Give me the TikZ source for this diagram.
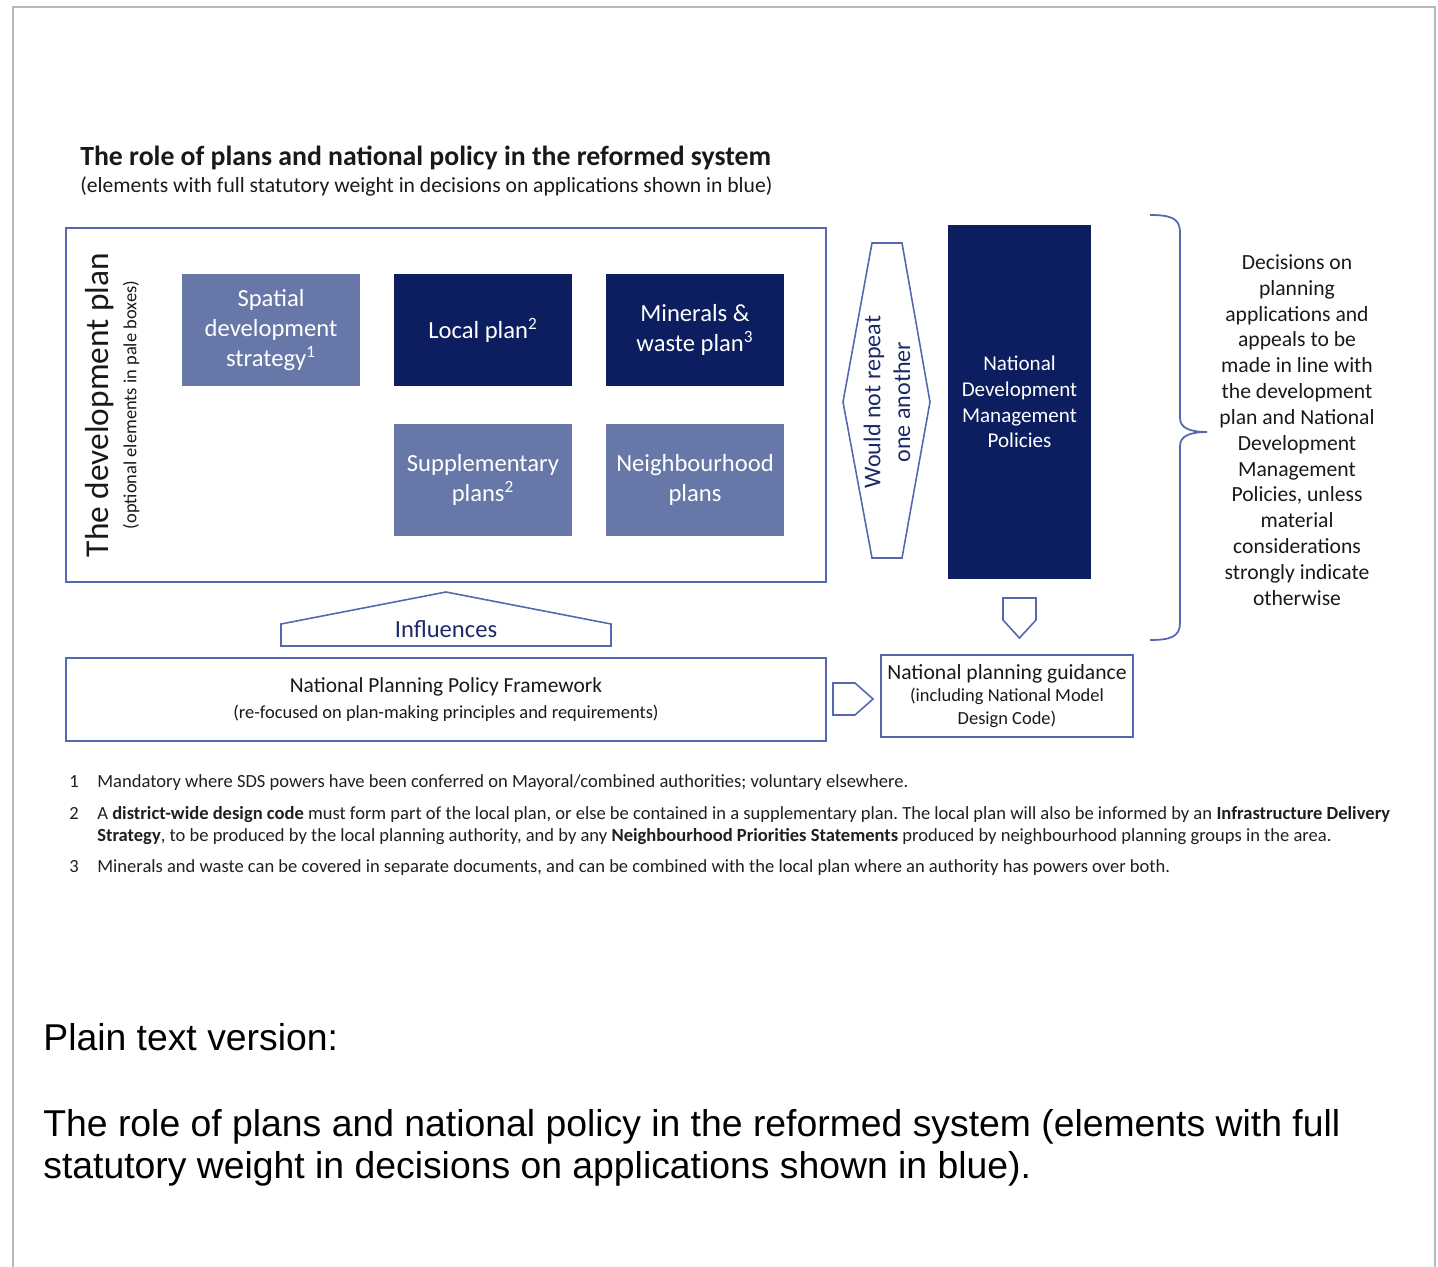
\documentclass[tikz,border=0pt]{standalone}
\usepackage{fontspec}
\setmainfont{Carlito}
\newfontfamily\arialfont{Liberation Sans}
\frenchspacing
\definecolor{navy}{RGB}{12,30,95}
\definecolor{pale}{RGB}{103,120,168}
\definecolor{edge}{RGB}{84,104,176}
\definecolor{ink}{RGB}{28,42,105}
\tikzset{
	darkbox/.style={fill=navy,text=white,minimum width=3.56cm,minimum height=2.24cm,align=center,inner sep=0pt,font=\fontsize{14}{17}\selectfont},
	palebox/.style={darkbox,fill=pale},
	frame/.style={draw=edge,line width=1.1pt},
	shapeline/.style={draw=edge,line width=0.9pt},
	note/.style={anchor=base west,inner sep=0pt,text=black!88,font=\fontsize{10.55}{12}\selectfont}
}
\begin{document}
\begin{tikzpicture}[x=0.02cm,y=-0.02cm]
	\useasboundingbox (0,0) rectangle (1438,1267);
	\draw[color=gray!55,line width=1.6pt] (13,1267)--(13,7)--(1435,7)--(1435,1267);

	\node[anchor=base west,inner sep=0pt,text=black!90,font=\bfseries\fontsize{15.8}{19}\selectfont] (title) at (80,166) {The role of plans and national policy in the reformed system};
	\node[anchor=base west,inner sep=0pt,text=black!90,font=\fontsize{12.3}{14}\selectfont] (subtitle) at (80,193) {(elements with full statutory weight in decisions on applications shown in blue)};

	% development plan
	\node[frame,minimum width=15.2cm,minimum height=7.08cm] (devplan) at (446,405) {};
	\node[rotate=90,inner sep=0pt,text=black!90,font=\fontsize{19}{22}\selectfont] (devtitle) at (100,405) {The development plan};
	\node[rotate=90,inner sep=0pt,text=black!90,font=\fontsize{10.5}{12}\selectfont] (devnote) at (131,405) {(optional elements in pale boxes)};
	\node[palebox] (sds) at (271,330) {Spatial\\development\\strategy\textsuperscript{1}};
	\node[darkbox] (local) at (483,330) {Local plan\textsuperscript{2}};
	\node[darkbox] (minerals) at (695,330) {Minerals \&\\waste plan\textsuperscript{3}};
	\node[palebox] (supp) at (483,480) {Supplementary\\plans\textsuperscript{2}};
	\node[palebox] (neigh) at (695,480) {Neighbourhood\\plans};

	% would not repeat
	\draw[shapeline] (872,243)--(902,243)--(930,402)--(902,558)--(872,558)--(843,402)--cycle;
	\node[rotate=90,align=center,inner sep=0pt,text=ink,font=\fontsize{13.7}{17}\selectfont] (repeat) at (887,402) {Would not repeat\\one another};

	\node[darkbox,minimum width=2.86cm,minimum height=7.08cm,font=\fontsize{12}{14.7}\selectfont] (ndmp) at (1019.5,402) {National\\Development\\Management\\Policies};
	\draw[shapeline] (1003,598)--(1036,598)--(1036,620)--(1019.5,638)--(1003,620)--cycle;

	% decisions
	\draw[edge,line width=1pt] (1150,215) .. controls (1170,215) and (1180,218) .. (1180,232) -- (1180,418) .. controls (1180,428) and (1190,432) .. (1207,432) .. controls (1190,432) and (1180,436) .. (1180,446) -- (1180,623) .. controls (1180,637) and (1170,640) .. (1150,640);
	\node[align=center,inner sep=0pt,text=black!90,font=\fontsize{12.3}{14.7}\selectfont] (decisions) at (1297,430) {Decisions on\\planning\\applications and\\appeals to be\\made in line with\\the development\\plan and National\\Development\\Management\\Policies, unless\\material\\considerations\\strongly indicate\\otherwise};

	% influences
	\draw[shapeline] (281,646)--(281,624)--(446,592)--(611,624)--(611,646)--cycle;
	\node[inner sep=0pt,text=ink,font=\fontsize{14}{17}\selectfont] (influences) at (446,629) {Influences};

	\node[frame,minimum width=15.2cm,minimum height=1.66cm,align=center,inner sep=0pt,text=black!90,font=\fontsize{12.2}{14.7}\selectfont] (nppf) at (446,699.5) {National Planning Policy Framework\\{\fontsize{10.5}{13}\selectfont(re-focused on plan-making principles and requirements)}};
	\draw[shapeline] (833,683)--(855,683)--(873,699)--(855,715)--(833,715)--cycle;
	\node[frame,minimum width=5.04cm,minimum height=1.64cm,align=center,inner sep=0pt,text=black!90,font=\fontsize{12.3}{13}\selectfont] (guidance) at (1007,696) {National planning guidance\\{\fontsize{10.5}{13}\selectfont(including National Model}\\{\fontsize{10.5}{13}\selectfont Design Code)}};

	% footnotes
	\node[note] (n1) at (69,787) {1};
	\node[note] (f1) at (97,787) {Mandatory where SDS powers have been conferred on Mayoral/combined authorities; voluntary elsewhere.};
	\node[note] (n2) at (69,819) {2};
	\node[note] (f2) at (97,819) {A \textbf{district-wide design code} must form part of the local plan, or else be contained in a supplementary plan. The local plan will also be informed by an \textbf{Infrastructure Delivery}};
	\node[note] (f2b) at (97,841) {\textbf{Strategy}, to be produced by the local planning authority, and by any \textbf{Neighbourhood Priorities Statements} produced by neighbourhood planning groups in the area.};
	\node[note] (n3) at (69,872) {3};
	\node[note] (f3) at (97,872) {Minerals and waste can be covered in separate documents, and can be combined with the local plan where an authority has powers over both.};

	% plain text
	\node[anchor=base west,inner sep=0pt,font=\arialfont\fontsize{21.25}{24}\selectfont] (plain) at (43,1050) {Plain text version:};
	\node[anchor=base west,inner sep=0pt,font=\arialfont\fontsize{21.25}{24}\selectfont] (plaina) at (43,1136) {The role of plans and national policy in the reformed system (elements with full};
	\node[anchor=base west,inner sep=0pt,font=\arialfont\fontsize{21.25}{24}\selectfont] (plainb) at (43,1178) {statutory weight in decisions on applications shown in blue).};
\end{tikzpicture}
\end{document}
